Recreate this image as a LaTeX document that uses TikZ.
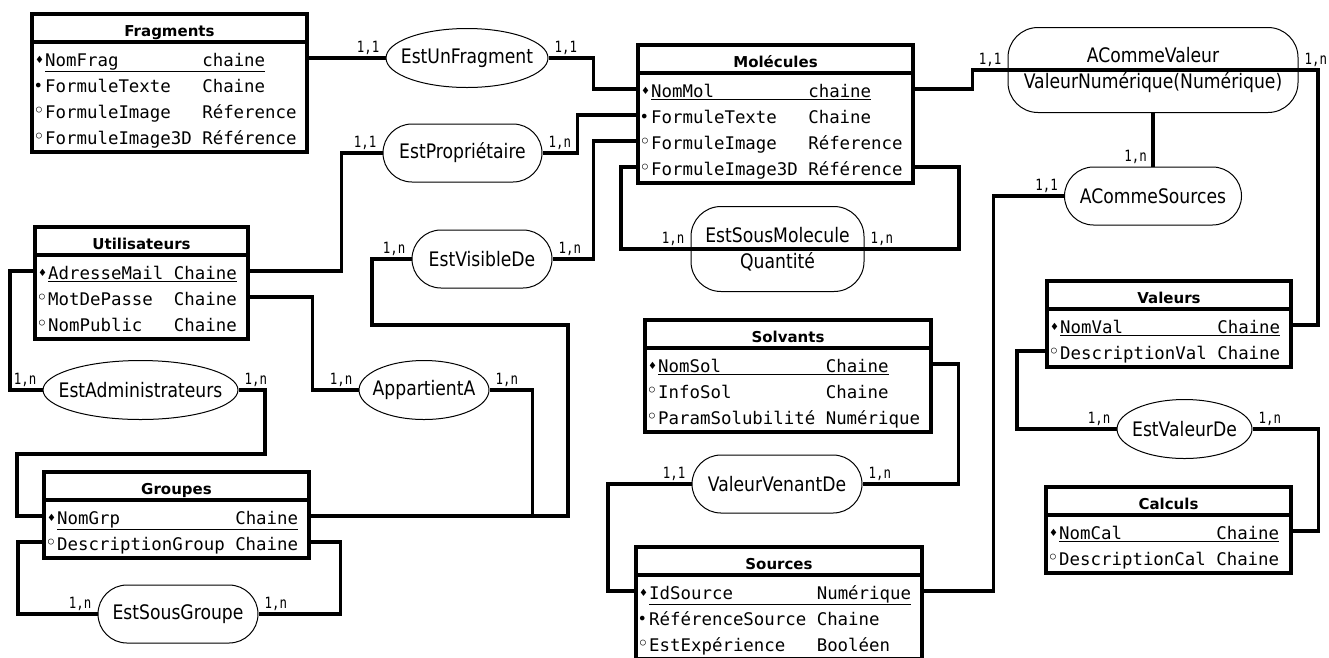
\documentclass[tikz,border=0pt]{standalone}
\usepackage{fontspec}
\setmainfont{DejaVu Sans}
\newfontfamily\attrfont{DejaVu Sans Mono}
\newfontfamily\cardfont{DejaVu Sans Mono}[FakeStretch=0.8]
\newfontfamily\assocfont{DejaVu Sans}[FakeStretch=0.86]
\usetikzlibrary{shapes.geometric,positioning}
\newlength{\cw}
\setlength{\cw}{10.475pt}
\newcommand{\kb}{\makebox[13pt][l]{\hspace{3pt}\raisebox{3.5pt}{\rmfamily\fontsize{10}{10}\selectfont ♦}}}
\newcommand{\mb}{\makebox[13pt][l]{\hspace{1.5pt}\raisebox{1.5pt}{\rmfamily\fontsize{16}{16}\selectfont •}}}
\newcommand{\ob}{\makebox[13pt][l]{\hspace{1pt}\raisebox{1pt}{\rmfamily\fontsize{20}{20}\selectfont ◦}}}
\newcommand{\attcol}[2]{\makebox[#1\cw][l]{#2}}
\newcommand{\ctext}[1]{\makebox[0pt]{#1}}

\begin{document}
\begin{tikzpicture}[x=1pt,y=1pt,yscale=-1,xscale=1,
  ebox/.style={line width=3.6pt},
  etitle/.style={anchor=base,inner sep=0pt,font=\fontsize{15}{18}\selectfont\bfseries},
  erow/.style={anchor=west,inner sep=0pt,text height=17pt,text depth=0pt,align=left,font=\attrfont\fontsize{17.4}{20}\selectfont},
  assoc/.style={draw,line width=1pt,fill=white,inner sep=0pt,align=center,font=\assocfont\fontsize{20}{26}\selectfont},
  oval/.style={assoc,ellipse,minimum height=59pt},
  pill/.style={assoc,rectangle,rounded corners=29pt,minimum height=58pt},
  rbox/.style={assoc,rectangle,rounded corners=30pt,minimum height=85pt},
  link/.style={line width=3.6pt},
  card/.style={inner sep=0pt,font=\cardfont\fontsize{15.5}{16}\selectfont}]
\useasboundingbox (0,0) rectangle (1329,657);
\clip (0,0) rectangle (1329,657);

%Entity: Fragments
\draw[ebox] (32,14) rectangle (307,152);
\draw[ebox] (32,42) -- (307,42);
\node[etitle] (frag) at (169.5,36) {Fragments};
\node[erow,text width=275pt] (frag1) at (32,58) {\kb\underline{\attcol{15}{NomFrag}chaine}};
\node[erow,text width=275pt] (frag2) at (32,84) {\mb\attcol{15}{FormuleTexte}Chaine};
\node[erow,text width=275pt] (frag3) at (32,110) {\ob\attcol{15}{FormuleImage}Réference};
\node[erow,text width=275pt] (frag4) at (32,136) {\ob\attcol{15}{FormuleImage3D}Référence};

%Entity: Molecules
\draw[ebox] (638,45) rectangle (913,183);
\draw[ebox] (638,73) -- (913,73);
\node[etitle] (mol) at (775.5,67) {Molécules};
\node[erow,text width=275pt] (mol1) at (638,89) {\kb\underline{\attcol{15}{NomMol}chaine}};
\node[erow,text width=275pt] (mol2) at (638,115) {\mb\attcol{15}{FormuleTexte}Chaine};
\node[erow,text width=275pt] (mol3) at (638,141) {\ob\attcol{15}{FormuleImage}Réference};
\node[erow,text width=275pt] (mol4) at (638,167) {\ob\attcol{15}{FormuleImage3D}Référence};

%Entity: Utilisateurs
\draw[ebox] (35,227) rectangle (248,339);
\draw[ebox] (35,255) -- (248,255);
\node[etitle] (util) at (141.5,249) {Utilisateurs};
\node[erow,text width=213pt] (util1) at (35,271) {\kb\underline{\attcol{12}{AdresseMail}Chaine}};
\node[erow,text width=213pt] (util2) at (35,297) {\ob\attcol{12}{MotDePasse}Chaine};
\node[erow,text width=213pt] (util3) at (35,323) {\ob\attcol{12}{NomPublic}Chaine};

%Entity: Groupes
\draw[ebox] (44,472) rectangle (309,558);
\draw[ebox] (44,500) -- (309,500);
\node[etitle] (grp) at (176.5,494) {Groupes};
\node[erow,text width=265pt] (grp1) at (44,516) {\kb\underline{\attcol{17}{NomGrp}Chaine}};
\node[erow,text width=265pt] (grp2) at (44,542) {\ob\attcol{17}{DescriptionGroup}Chaine};

%Entity: Solvants
\draw[ebox] (645,320) rectangle (931,432);
\draw[ebox] (645,348) -- (931,348);
\node[etitle] (sol) at (788,342) {Solvants};
\node[erow,text width=286pt] (sol1) at (645,364) {\kb\underline{\attcol{16}{NomSol}Chaine}};
\node[erow,text width=286pt] (sol2) at (645,390) {\ob\attcol{16}{InfoSol}Chaine};
\node[erow,text width=286pt] (sol3) at (645,416) {\ob\attcol{16}{ParamSolubilité}Numérique};

%Entity: Sources
\draw[ebox] (636,547) rectangle (922,659);
\draw[ebox] (636,575) -- (922,575);
\node[etitle] (src) at (779,569) {Sources};
\node[erow,text width=286pt] (src1) at (636,591) {\kb\underline{\attcol{16}{IdSource}Numérique}};
\node[erow,text width=286pt] (src2) at (636,617) {\mb\attcol{16}{RéférenceSource}Chaine};
\node[erow,text width=286pt] (src3) at (636,643) {\ob\attcol{16}{EstExpérience}Booléen};

%Entity: Valeurs
\draw[ebox] (1047,281) rectangle (1291,367);
\draw[ebox] (1047,309) -- (1291,309);
\node[etitle] (val) at (1169,303) {Valeurs};
\node[erow,text width=244pt] (val1) at (1047,325) {\kb\underline{\attcol{15}{NomVal}Chaine}};
\node[erow,text width=244pt] (val2) at (1047,351) {\ob\attcol{15}{DescriptionVal}Chaine};

%Entity: Calculs
\draw[ebox] (1046,487) rectangle (1291,573);
\draw[ebox] (1046,515) -- (1291,515);
\node[etitle] (cal) at (1168.5,509) {Calculs};
\node[erow,text width=245pt] (cal1) at (1046,531) {\kb\underline{\attcol{15}{NomCal}Chaine}};
\node[erow,text width=245pt] (cal2) at (1046,557) {\ob\attcol{15}{DescriptionCal}Chaine};

%Associations
\node[oval,minimum width=162pt] (estunfrag) at (467,58) {\ctext{EstUnFragment}};
\node[pill,minimum width=159pt] (estprop) at (462.5,153) {EstPropriétaire};
\node[pill,minimum width=140pt] (estvis) at (482,259) {EstVisibleDe};
\node[rbox,minimum width=173pt] (estsousmol) at (777.5,249) {EstSousMolecule\\Quantité};
\node[rbox,minimum width=290pt] (acommeval) at (1153,70) {ACommeValeur\\ValeurNumérique(Numérique)};
\node[pill,minimum width=177pt] (acommesrc) at (1153,196) {ACommeSources};
\node[oval,minimum width=195pt] (estadmin) at (140.5,390) {\ctext{EstAdministrateurs}};
\node[oval,minimum width=130pt] (appartient) at (424,390) {\ctext{AppartientA}};
\node[pill,minimum width=160pt] (estsousgrp) at (178,614) {EstSousGroupe};
\node[pill,minimum width=170pt] (valvenant) at (777,484) {ValeurVenantDe};
\node[oval,minimum width=135pt] (estvalde) at (1184.5,429) {\ctext{EstValeurDe}};

%Links
\draw[link] (frag1.east) -- (estunfrag.west);
\draw[link] (estunfrag.east) -- ++(45,0) |- (mol1.west);
\draw[link] (util1.east) -- ++(93,0) |- (estprop.west);
\draw[link] (estprop.east) -- ++(35,0) |- (mol2.west);
\draw[link] (estvis.east) -- ++(41,0) |- (mol3.west);
\draw[link] (estvis.west) -| (372,325) -| (568,516) -- (grp1.east);
\draw[link] (appartient.east) -- ++(43,0) |- (grp1.east);
\draw[link] (util2.east) -- ++(64,0) |- (appartient.west);
\draw[link] (util1.west) -- ++(-25,0) |- (estadmin.west);
\draw[link] (estadmin.east) -| (265,454) -| (17,516) -- (grp1.west);
\draw[link] (grp2.west) -- ++(-26,0) |- (estsousgrp.west);
\draw[link] (grp2.east) -- ++(31,0) |- (estsousgrp.east);
\draw[link] (mol4.west) -- ++(-17,0) |- (estsousmol.west) -- (estsousmol.east) -| (959,167) -- (mol4.east);
\draw[link] (mol1.east) -- ++(59,0) |- (acommeval.west) -- (acommeval.east) -| (1318,325) -- (val1.east);
\draw[link] (acommeval.south) -- (acommesrc.north);
\draw[link] (src1.east) -- ++(71,0) |- (acommesrc.west);
\draw[link] (sol1.east) -- ++(27,0) |- (valvenant.east);
\draw[link] (src1.west) -- ++(-28,0) |- (valvenant.west);
\draw[link] (val2.west) -- ++(-30,0) |- (estvalde.west);
\draw[link] (cal1.east) -- ++(27,0) |- (estvalde.east);

%Cardinalities
\node[card,above left=3pt and 6pt of estunfrag.west] (cunfragl) {1,1};
\node[card,above right=3pt and 6pt of estunfrag.east] (cunfragr) {1,1};
\node[card,above left=3pt and 6pt of estprop.west] (cpropl) {1,1};
\node[card,above right=3pt and 6pt of estprop.east] (cpropr) {1,n};
\node[card,above left=3pt and 6pt of estvis.west] (cvisl) {1,n};
\node[card,above right=3pt and 6pt of estvis.east] (cvisr) {1,n};
\node[card,above left=3pt and 6pt of estsousmol.west] (csmoll) {1,n};
\node[card,above right=3pt and 6pt of estsousmol.east] (csmolr) {1,n};
\node[card,above left=3pt and 6pt of acommeval.west] (cvall) {1,1};
\node[card,above right=3pt and 6pt of acommeval.east] (cvalr) {1,n};
\node[card,above left=3pt and 6pt of acommesrc.north] (csrct) {1,n};
\node[card,above left=3pt and 6pt of acommesrc.west] (csrcl) {1,1};
\node[card,above left=3pt and 6pt of estadmin.west] (cadminl) {1,n};
\node[card,above right=3pt and 6pt of estadmin.east] (cadminr) {1,n};
\node[card,above left=3pt and 6pt of appartient.west] (cappl) {1,n};
\node[card,above right=3pt and 6pt of appartient.east] (cappr) {1,n};
\node[card,above left=3pt and 6pt of estsousgrp.west] (csgrpl) {1,n};
\node[card,above right=3pt and 6pt of estsousgrp.east] (csgrpr) {1,n};
\node[card,above left=3pt and 6pt of valvenant.west] (cvenl) {1,1};
\node[card,above right=3pt and 6pt of valvenant.east] (cvenr) {1,n};
\node[card,above left=3pt and 6pt of estvalde.west] (cvaldel) {1,n};
\node[card,above right=3pt and 6pt of estvalde.east] (cvalder) {1,n};
\end{tikzpicture}
\end{document}
